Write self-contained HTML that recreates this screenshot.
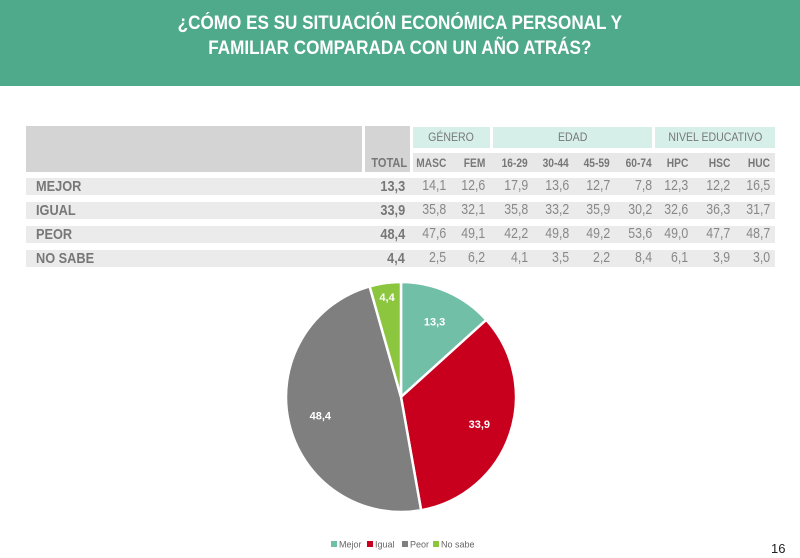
<!DOCTYPE html>
<html><head><meta charset="utf-8"><style>
body{margin:0;width:800px;height:558px;background:#fff;font-family:"Liberation Sans",sans-serif;position:relative;overflow:hidden}
.abs{position:absolute}
#title{left:0;top:0;width:800px;height:86px;background:#4faa8b;color:#fff;font-weight:bold;font-size:19px;line-height:25px;text-align:center;padding-top:11px;box-sizing:border-box}
#title span{display:inline-block;transform:scaleX(0.9)}
.cell{position:absolute;font-size:13px;color:#777;font-weight:bold;text-align:right;box-sizing:border-box}
.cell span{display:inline-block;transform:scaleX(0.85);transform-origin:right center}
.cell.lft span{transform-origin:left center}
.num{font-weight:normal;font-size:14.5px;color:#888}
.grp{color:#777;font-size:12px;text-align:center;line-height:21px}
.grp span{display:inline-block;transform:scaleX(0.88)}
</style></head><body>
<div id="title" class="abs"><span>¿CÓMO ES SU SITUACIÓN ECONÓMICA PERSONAL Y<br>FAMILIAR COMPARADA CON UN AÑO ATRÁS?</span></div>
<div class="abs" style="left:26px;top:126px;width:336px;height:46px;background:#d4d4d4"></div>
<div class="abs" style="left:365px;top:126px;width:45px;height:46px;background:#d4d4d4"></div>
<div class="cell" style="left:365px;top:155px;width:42px;font-size:13px"><span>TOTAL</span></div>
<div class="abs" style="left:413px;top:153px;width:362px;height:19px;background:#e8e8e8"></div>
<div class="abs grp" style="left:413px;top:127px;width:77px;height:21px;background:#d7efe9"><span>GÉNERO</span></div>
<div class="abs grp" style="left:493px;top:127px;width:159px;height:21px;background:#d7efe9"><span>EDAD</span></div>
<div class="abs grp" style="left:655px;top:127px;width:120px;height:21px;background:#d7efe9"><span>NIVEL EDUCATIVO</span></div>
<div id="tbl"></div>
<svg class="abs" style="left:0;top:0" width="800" height="558" id="pie"></svg>
<div class="abs" style="left:771px;top:541px;font-size:13px;color:#222">16</div>
<script>
const rowLabels=["MEJOR","IGUAL","PEOR","NO SABE"];
const colLabels=["MASC","FEM","16-29","30-44","45-59","60-74","HPC","HSC","HUC"];
const totals=[13.3,33.9,48.4,4.4];
const mejor=[14.1,12.6,17.9,13.6,12.7,7.8,12.3,12.2,16.5];
const igual=[35.8,32.1,35.8,33.2,35.9,30.2,32.6,36.3,31.7];
const peor=[47.6,49.1,42.2,49.8,49.2,53.6,49.0,47.7,48.7];
const nosabe=[2.5,6.2,4.1,3.5,2.2,8.4,6.1,3.9,3.0];
const pieLabels=["Mejor","Igual","Peor","No sabe"];
const pieColors=["#72bfa8","#c8001e","#7f7f7f","#8cc63f"];
const series=[mejor,igual,peor,nosabe];
const colRight=[446,485,528,569,610,652,688,730,770];
const fmt=v=>v.toFixed(1).replace('.',',');
const tbl=document.getElementById('tbl');
colLabels.forEach((c,j)=>{const d=document.createElement('div');d.className='cell';


d.style.cssText=`left:${colRight[j]-50}px;top:156px;width:50px;font-size:12px`;d.innerHTML='<span>'+c+'</span>';tbl.appendChild(d);});
rowLabels.forEach((r,i)=>{const y=178+i*24;
const bg=document.createElement('div');bg.className='abs';


bg.style.cssText=`left:26px;top:${y}px;width:749px;height:17px;background:#ebebeb`;tbl.appendChild(bg);
const l=document.createElement('div');l.className='cell lft';


l.style.cssText=`left:36px;top:${y}px;text-align:left;font-size:15px;line-height:17px`;l.innerHTML='<span>'+r+'</span>';tbl.appendChild(l);
const t=document.createElement('div');t.className='cell';


t.style.cssText=`left:350px;top:${y}px;width:55px;font-size:15px;line-height:17px`;t.innerHTML='<span>'+fmt(totals[i])+'</span>';tbl.appendChild(t);
series[i].forEach((v,j)=>{const c=document.createElement('div');c.className='cell num';


c.style.cssText=`left:${colRight[j]-50}px;top:${y}px;width:50px;line-height:17px`;c.innerHTML='<span>'+fmt(v)+'</span>';tbl.appendChild(c);});
});
const svg=document.getElementById('pie');const NS='http://www.w3.org/2000/svg';
const cx=401,cy=397,R=115;const sum=totals.reduce((a,b)=>a+b,0);
let a0=0;
totals.forEach((v,i)=>{const a1=a0+v/sum*2*Math.PI;
const p=(a)=>[cx+R*Math.sin(a),cy-R*Math.cos(a)];
const [x0,y0]=p(a0),[x1,y1]=p(a1);
const path=document.createElementNS(NS,'path');
path.setAttribute('d',`M${cx},${cy}L${x0},${y0}A${R},${R} 0 ${a1-a0>Math.PI?1:0} 1 ${x1},${y1}Z`);
path.setAttribute('fill',pieColors[i]);path.setAttribute('stroke','#fff');path.setAttribute('stroke-width','2.5');


svg.appendChild(path);
const am=(a0+a1)/2;const rr=v<6?R*0.88:R*0.72;
const t=document.createElementNS(NS,'text');
t.setAttribute('x',cx+rr*Math.sin(am));t.setAttribute('y',cy-rr*Math.cos(am)+4);
t.setAttribute('text-anchor','middle');t.setAttribute('fill','#fff');t.setAttribute('font-size','11');t.setAttribute('font-weight','bold');
t.setAttribute('font-family','Liberation Sans, sans-serif');t.textContent=fmt(v);


svg.appendChild(t);a0=a1;});
const legX=[331,367,402,433];
pieLabels.forEach((l,i)=>{const g=document.createElementNS(NS,'g');


const r=document.createElementNS(NS,'rect');r.setAttribute('x',legX[i]);r.setAttribute('y',541);r.setAttribute('width',6);r.setAttribute('height',6);r.setAttribute('fill',pieColors[i]);g.appendChild(r);
const t=document.createElementNS(NS,'text');t.setAttribute('x',legX[i]+8);t.setAttribute('y',547.5);t.setAttribute('font-size','9');t.setAttribute('fill','#666');t.setAttribute('font-family','Liberation Sans, sans-serif');t.textContent=l;g.appendChild(t);
svg.appendChild(g);});
</script>
</body></html>
